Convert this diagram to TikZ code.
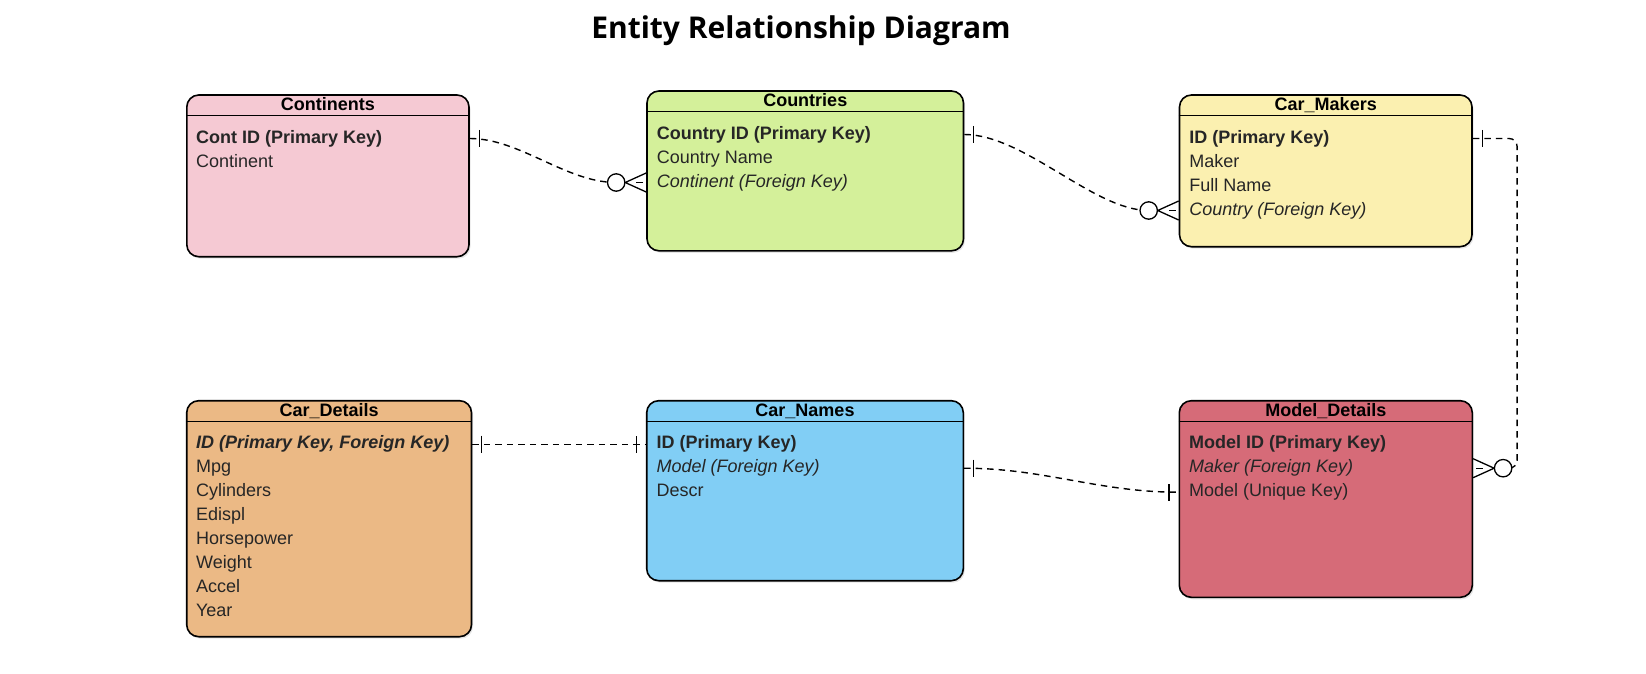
\documentclass[tikz,border=0pt]{standalone}
\usepackage{fontspec}
\setmainfont{Liberation Sans}
\newfontfamily\titlefont{Open Sans}
\usepackage{tikz}
\usetikzlibrary{calc,shadows}
\definecolor{light_pink}{RGB}{245,201,211}
\definecolor{light_green}{RGB}{212,240,154}
\definecolor{light_yellow}{RGB}{251,240,176}
\definecolor{light_orange}{RGB}{235,185,133}
\definecolor{light_blue}{RGB}{129,206,245}
\definecolor{dark_rose}{RGB}{214,107,120}

\tikzset{
	entity/.style={draw=black,line width=1.6,rounded corners=12,drop shadow={shadow xshift=1.5pt,shadow yshift=-2pt,opacity=0.2}},
	entity_head/.style={inner sep=0,text height=13,text depth=3.8,font=\bfseries\fontsize{18}{21}\selectfont},
	attr/.style={anchor=west,inner sep=0,text height=13,text depth=3.8,text=black!85,font=\fontsize{18}{21}\selectfont},
	sep_line/.style={line width=1.1},
	relation/.style={line width=1.4,dash pattern=on 6.5pt off 5pt},
	er_one/.pic={\draw[line width=1.3] (9.5,-8.5) -- (9.5,8.5);},
	er_many/.pic={
		\draw[line width=1.3] (0,-9.5) -- (21,0) -- (0,9.5);
		\draw[line width=1.3] (3,0) -- (10,0);
		\draw[line width=1.3,fill=white] (30,0) circle (8.7);}
}

\begin{document}
\begin{tikzpicture}[x=1pt,y=-1pt]
	\useasboundingbox (0,0) rectangle (1646,674);
	\node[font=\titlefont\bfseries\fontsize{30}{34}\selectfont,anchor=base] (title) at (801,39) {Entity Relationship Diagram};

	\node[entity,fill=light_pink,minimum width=282.2,minimum height=161.7] (cont) at (327.9,175.85) {};
	\node[entity,fill=light_green,minimum width=316.5,minimum height=159.8] (ctry) at (805.25,170.9) {};
	\node[entity,fill=light_yellow,minimum width=292.5,minimum height=151.7] (maker) at (1325.75,170.85) {};
	\node[entity,fill=light_orange,minimum width=284.8,minimum height=236] (det) at (329.1,518.7) {};
	\node[entity,fill=light_blue,minimum width=316.6,minimum height=180] (names) at (805,490.7) {};
	\node[entity,fill=dark_rose,minimum width=293,minimum height=196.6] (model) at (1325.8,499) {};

	\foreach \e/\t in {cont/Continents,ctry/Countries,maker/Car\_Makers,det/Car\_Details,names/Car\_Names,model/Model\_Details}{
		\node[entity_head] (\e_head) at ($(\e.north)+(0,12.2)$) {\t};
		\draw[sep_line] ($(\e.north west)+(0,21.3)$) -- ($(\e.north east)+(0,21.3)$);
	}

	\foreach \t [count=\i] in {\textbf{Cont ID (Primary Key)},Continent}
		\node[attr] (cont\i) at ($(cont.north west)+(10,20.3+24*\i)$) {\t};
	\foreach \t [count=\i] in {\textbf{Country ID (Primary Key)},Country Name,\textit{Continent (Foreign Key)}}
		\node[attr] (ctry\i) at ($(ctry.north west)+(10.5,20.3+24*\i)$) {\t};
	\foreach \t [count=\i] in {\textbf{ID (Primary Key)},Maker,Full Name,\textit{Country (Foreign Key)}}
		\node[attr] (maker\i) at ($(maker.north west)+(10.5,20.3+24*\i)$) {\t};
	\foreach \t [count=\i] in {{\textbf{\textit{ID (Primary Key, Foreign Key)}}},Mpg,Cylinders,Edispl,Horsepower,Weight,Accel,Year}
		\node[attr] (det\i) at ($(det.north west)+(10,20.3+24*\i)$) {\t};
	\foreach \t [count=\i] in {\textbf{ID (Primary Key)},\textit{Model (Foreign Key)},Descr}
		\node[attr] (names\i) at ($(names.north west)+(10.5,20.3+24*\i)$) {\t};
	\foreach \t [count=\i] in {\textbf{Model ID (Primary Key)},\textit{Maker (Foreign Key)},Model (Unique Key)}
		\node[attr] (model\i) at ($(model.north west)+(10.5,20.3+24*\i)$) {\t};

	\draw[relation] (cont.east |- cont1) .. controls +(50,0) and +(-50,0) .. ($(ctry.west |- ctry3)+(-30,0)$);
	\draw[relation] (ctry.east |- ctry1) .. controls +(60,0) and +(-55,0) .. ($(maker.west |- maker4)+(-30,0)$);
	\draw[relation,rounded corners=8] (maker.east |- maker1) -| ($(model.east |- model2)+(44,0)$) -- ($(model.east |- model2)+(30,0)$);
	\draw[relation] (det.east |- det1) -- (names.west |- names1);
	\draw[relation] (names.east |- names2) .. controls +(80,0) and +(-80,0) .. (model.west |- model3);

	\foreach \p in {cont.east |- cont1,ctry.east |- ctry1,maker.east |- maker1,det.east |- det1,names.east |- names2}
		\pic at (\p) {er_one};
	\foreach \p in {names.west |- names1,model.west |- model3}
		\pic[rotate=180] at (\p) {er_one};
	\foreach \p in {ctry.west |- ctry3,maker.west |- maker4}
		\pic[rotate=180] at (\p) {er_many};
	\pic at (model.east |- model2) {er_many};
\end{tikzpicture}
\end{document}
